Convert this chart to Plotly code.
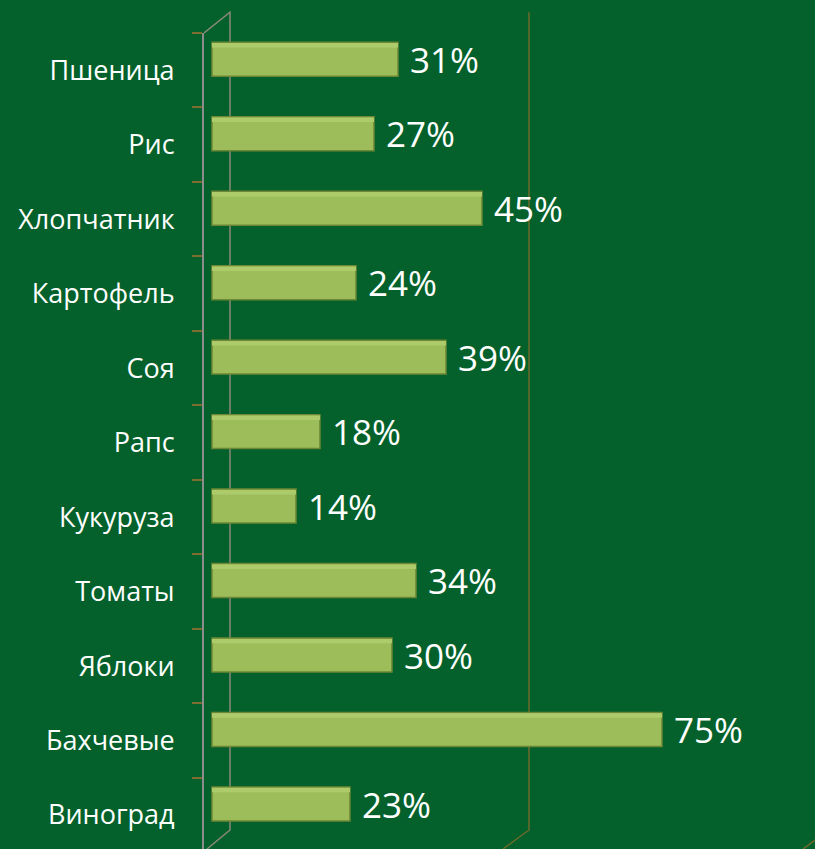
import plotly.graph_objects as go

categories = ["Пшеница", "Рис", "Хлопчатник", "Картофель", "Соя", "Рапс",
              "Кукуруза", "Томаты", "Яблоки", "Бахчевые", "Виноград"]
values = [31, 27, 45, 24, 39, 18, 14, 34, 30, 75, 23]
grid_values = [0, 50, 100]

BG = "#04612b"
WALL = "#6e6a2c"

fig = go.Figure()
fig.add_trace(go.Bar(
    x=values, y=categories, orientation="h",
    width=0.456, offset=-0.376,
    marker=dict(color="#9dbd5b", line=dict(color="#6c8834", width=1.5)),
    texttemplate=" %{x}%", textposition="outside", constraintext="none",
    textfont=dict(family="Open Sans", size=35, color="white"),
    cliponaxis=False,
))
# lighter top face strip for a 3D feel
fig.add_trace(go.Bar(
    x=values, y=categories, orientation="h",
    width=0.06, offset=-0.365,
    marker=dict(color="#aecb6c", line=dict(width=0)),
    hoverinfo="skip",
))

shapes = []
for g in grid_values:
    if g == 0:
        path = "M -8,1.0 L 18,1.0254 L 18,0.0233 L -5,0"
    else:
        path = "M 17,1.0254 L 17,0.0233 L -9,0"
    shapes.append(dict(type="path", xref="x", xsizemode="pixel", xanchor=g,
                       yref="paper", path=path,
                       line=dict(color=WALL if g else "#8a8a7a", width=1.5),
                       layer="below"))

fig.update_layout(
    width=815, height=849,
    margin=dict(l=204, r=0, t=33, b=0),
    paper_bgcolor=BG, plot_bgcolor=BG,
    showlegend=False, barmode="overlay",
    shapes=shapes,
    xaxis=dict(range=[-1.33, 100.5], showgrid=False, zeroline=False,
               showticklabels=False, showline=False),
    yaxis=dict(type="category", categoryorder="array", categoryarray=categories,
               range=[10.456, -0.5], showgrid=False, zeroline=False,
               showline=True, linecolor="#8c8c8c", linewidth=2,
               ticks="outside", tickson="boundaries", ticklen=10,
               tickcolor="#7d6d2e", tickwidth=1.5,
               ticklabelstandoff=22,
               tickfont=dict(family="Open Sans", size=27, color="white")),
)

fig.write_html("out.html", config={"displayModeBar": False},
               post_script="document.body.style.margin='0';"
                           "document.body.style.background='#04612b';")
